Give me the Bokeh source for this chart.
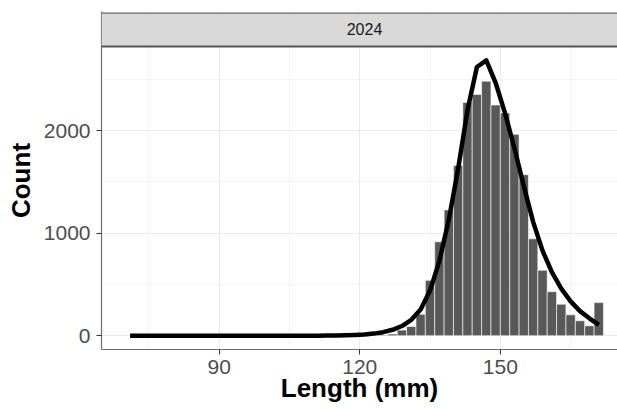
from bokeh.plotting import figure
from bokeh.models import (Range1d, FixedTicker, BoxAnnotation, Span, Label,
                          ColumnDataSource)
from bokeh.embed import file_html
from bokeh.resources import INLINE

# ---- data ----
panel_label = "2024"
bin_mid = [123, 125, 127, 129, 131, 133, 135, 137, 139, 141, 143, 145, 147,
           149, 151, 153, 155, 157, 159, 161, 163, 165, 167, 169, 171]
bin_count = [3, 8, 18, 55, 90, 210, 540, 916, 1227, 1660, 2275, 2353, 2482,
             2249, 2172, 1964, 1570, 945, 638, 430, 308, 204, 146, 97, 323]
bin_width = 2

fit_x = [71, 73, 75, 77, 79, 81, 83, 85, 87, 89, 91, 93, 95, 97, 99, 101,
         103, 105, 107, 109, 111, 113, 115, 117, 119, 121, 123, 125, 127,
         129, 131, 133, 135, 137, 139, 141, 143, 145, 147, 149, 151, 153,
         155, 157, 159, 161, 163, 165, 167, 169, 171]
fit_y = [0, 0, 0, 0, 0, 0, 0, 0, 0, 0, 0, 0, 0, 0, 0, 0,
         0, 0, 0, 0, 1, 2, 3, 5, 8, 13, 21, 35, 58,
         95, 155, 255, 440, 730, 1130, 1630, 2200, 2620, 2685, 2465, 2170, 1830,
         1460, 1110, 830, 620, 460, 335, 240, 170, 107]

x_ticks = [90, 120, 150]
x_minor = [75, 105, 135, 165]
y_ticks = [0, 1000, 2000]
y_minor = [500, 1500, 2500]
x_title = "Length (mm)"
y_title = "Count"

# ---- figure ----
y_lo, y_panel_hi, y_strip_hi, y_end = -134, 2820, 3146, 3161

p = figure(width=617, height=409, output_backend="svg", toolbar_location=None,
           x_range=Range1d(64.9, 175.0), y_range=Range1d(y_lo, y_end),
           min_border_left=101, min_border_right=0, min_border_top=11,
           min_border_bottom=60)
p.outline_line_color = None
p.background_fill_color = "white"
p.border_fill_color = "white"

src = ColumnDataSource(dict(x=bin_mid, top=bin_count))
p.vbar(x="x", top="top", bottom=0, width=bin_width, source=src,
       fill_color="#595959", line_color="white", line_width=0.6)
p.line(fit_x, fit_y, line_color="black", line_width=4.5, line_join="round")

# grids
p.xaxis.ticker = FixedTicker(ticks=x_ticks, minor_ticks=x_minor)
p.yaxis.ticker = FixedTicker(ticks=y_ticks, minor_ticks=y_minor)
for g in (p.xgrid, p.ygrid):
    g.grid_line_color = "#ebebeb"
    g.grid_line_width = 1.1
    g.minor_grid_line_color = "#f0f0f0"
    g.minor_grid_line_width = 0.7

# axes
for ax in (p.xaxis, p.yaxis):
    ax.axis_line_color = "#6e6e6e"
    ax.axis_line_width = 1.2
    ax.major_tick_line_color = "#333333"
    ax.major_tick_line_width = 1
    ax.major_tick_in = 0
    ax.major_tick_out = 5
    ax.minor_tick_line_color = None
    ax.major_label_text_font = "Liberation Sans"
    ax.major_label_text_font_size = "21px"
    ax.major_label_text_color = "#4d4d4d"
    ax.axis_label_text_font = "Liberation Sans"
    ax.axis_label_text_font_style = "bold"
    ax.axis_label_text_font_size = "26px"
    ax.axis_label_text_color = "black"
p.xaxis.major_label_standoff = 5
p.yaxis.major_label_standoff = 6
p.yaxis.axis_label = y_title
p.yaxis.axis_label_standoff = 5
p.xaxis.axis_label = x_title
p.xaxis.axis_label_standoff = -4

# facet strip
strip = BoxAnnotation(bottom=y_panel_hi, top=y_strip_hi, fill_color="#d9d9d9",
                      fill_alpha=1, line_color=None)
p.add_layout(strip)
p.add_layout(Span(location=y_strip_hi, dimension="width", line_color="#666666",
                  line_width=1.2))
p.add_layout(Span(location=y_panel_hi, dimension="width", line_color="#555555",
                  line_width=1.8))
p.add_layout(Label(x=263, y=321, x_units="screen", y_units="screen",
                   text=panel_label, text_font="Liberation Sans",
                   text_font_size="16px", text_color="#1a1a1a",
                   text_align="center", text_baseline="alphabetic"))

open("out.html", "w").write(file_html(p, INLINE))
